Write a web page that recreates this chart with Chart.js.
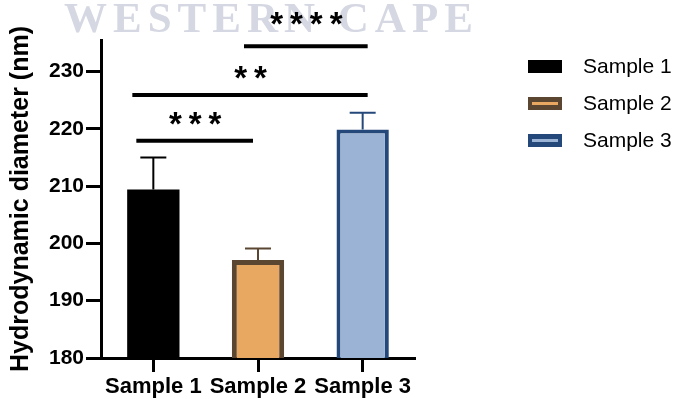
<!DOCTYPE html>
<html>
<head>
<meta charset="utf-8">
<script src="https://cdn.jsdelivr.net/npm/chart.js@4/dist/chart.umd.min.js"></script>
<style>
  html, body { margin: 0; padding: 0; background: #fff; }
  canvas { display: block; }
</style>
</head>
<body>
<canvas id="chart" width="679" height="399"></canvas>
<script>
const categories = ['Sample 1', 'Sample 2', 'Sample 3'];
const means = [209.4, 197.1, 219.9];
const errorsUp = [5.6, 2.0, 2.9];
const yTicks = [180, 190, 200, 210, 220, 230];
const sigPairs = [[0, 1], [0, 2], [1, 2]];
const sigLevels = [217.9, 225.9, 234.4];
const sigLabels = ['***', '**', '****'];

const fills = ['#000000', '#e8a862', '#9bb3d4'];
const borders = ['#000000', '#5b4632', '#24487a'];

const annotations = {
    id: 'annotations',
    beforeDraw(chart) {
        const ctx = chart.ctx;
        ctx.save();
        ctx.fillStyle = '#fff';
        ctx.fillRect(0, 0, chart.width, chart.height);
        // faint watermark behind the plot
        ctx.font = 'bold 43px "Liberation Serif"';
        ctx.fillStyle = '#d5d7e2';
        ctx.letterSpacing = '6px';
        ctx.textBaseline = 'alphabetic';
        ctx.fillText('WESTERN CAPE', 64, 32);
        ctx.restore();
    },
    afterDatasetsDraw(chart, args, opts) {
        const ctx = chart.ctx;
        const x = chart.scales.x;
        const y = chart.scales.y;
        ctx.save();

        // error bars, upper side only
        means.forEach((m, i) => {
            const cx = x.getPixelForValue(i);
            const top = y.getPixelForValue(m + errorsUp[i]);
            ctx.strokeStyle = borders[i];
            ctx.lineWidth = 2;
            ctx.beginPath();
            ctx.moveTo(cx, y.getPixelForValue(m));
            ctx.lineTo(cx, top);
            ctx.moveTo(cx - 13, top);
            ctx.lineTo(cx + 13, top);
            ctx.stroke();
        });

        // significance brackets
        ctx.strokeStyle = '#000';
        ctx.fillStyle = '#000';
        ctx.lineWidth = 4;
        ctx.font = 'bold 33px Arial';
        ctx.letterSpacing = '7px';
        ctx.textAlign = 'center';
        ctx.textBaseline = 'alphabetic';
        sigPairs.forEach(([a, b], i) => {
            const x0 = x.getPixelForValue(a) + opts.inset[i][0];
            const x1 = x.getPixelForValue(b) + opts.inset[i][1];
            const py = y.getPixelForValue(sigLevels[i]);
            ctx.beginPath();
            ctx.moveTo(x0, py);
            ctx.lineTo(x1, py);
            ctx.stroke();
            ctx.fillText(sigLabels[i], (x0 + x1) / 2 + 4, py - opts.starGap[i]);
        });

        // legend
        ctx.letterSpacing = '0px';
        ctx.textAlign = 'left';
        ctx.textBaseline = 'middle';
        ctx.font = '21px Arial';
        categories.forEach((c, i) => {
            const ly = 66 + i * 37;
            ctx.fillStyle = borders[i];
            ctx.fillRect(528, ly - 6, 34, 13);
            if (i > 0) {
                ctx.fillStyle = fills[i];
                ctx.fillRect(532, ly - 1, 26, 3);
            }
            ctx.fillStyle = '#000';
            ctx.fillText(c, 583, ly + 1);
        });
        ctx.restore();
    }
};

new Chart(document.getElementById('chart'), {
    type: 'bar',
    data: {
        labels: categories,
        datasets: [{
            data: means,
            backgroundColor: fills,
            borderColor: borders,
            borderWidth: [0, 5, 4],
            barPercentage: 0.5,
            categoryPercentage: 1.0,
        }],
    },
    plugins: [annotations],
    options: {
        responsive: false,
        animation: false,
        layout: { padding: { top: 40, right: 264, bottom: 0, left: 0 } },
        plugins: {
            legend: { display: false },
            tooltip: { enabled: false },
            annotations: {
                inset: [[-17, -5], [-21, 5], [-14, 5]],
                starGap: [6, 6, 11],
            },
        },
        scales: {
            x: {
                offset: true,
                grid: { offset: false, drawOnChartArea: false, tickLength: 14, tickWidth: 3, tickColor: '#000' },
                border: { color: '#000', width: 3 },
                ticks: { color: '#000', font: { family: 'Arial', size: 22, weight: 'bold' }, padding: 2, maxRotation: 0, autoSkip: false },
                afterFit: s => { s.height = 41; },
            },
            y: {
                min: 180,
                max: 235.5,
                afterBuildTicks: s => { s.ticks = yTicks.map(v => ({ value: v })); },
                grid: { drawOnChartArea: false, tickLength: 15, tickWidth: 3, tickColor: '#000' },
                border: { color: '#000', width: 3 },
                ticks: { color: '#000', font: { family: 'Arial', size: 21, weight: 'bold' }, padding: 2 },
                title: {
                    display: true,
                    text: 'Hydrodynamic diameter (nm)',
                    color: '#000',
                    font: { family: 'Arial', size: 25, weight: 'bold' },
                    padding: { top: 6, bottom: 0 },
                },
                afterFit: s => { s.width = 101; },
            },
        },
    },
});
</script>
</body>
</html>
